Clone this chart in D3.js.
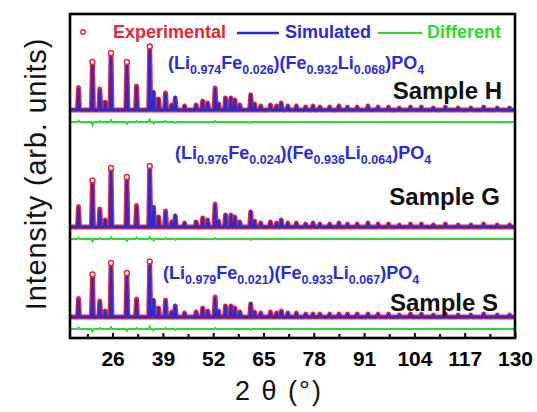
<!DOCTYPE html>
<html><head><meta charset="utf-8">
<script src="https://cdn.jsdelivr.net/npm/d3@7"></script>
<style>body{margin:0;background:#fff} svg{display:block}</style>
</head><body><svg id="c" width="537" height="412"></svg>
<script>
// ---- data ----
const xTicks = [26, 39, 52, 65, 78, 91, 104, 117, 130];
const xMinorTicks = [19.5, 32.5, 45.5, 58.5, 71.5, 84.5, 97.5, 110.5, 123.5];
const samples = ["Sample H", "Sample G", "Sample S"];
const peakPos = [17.2, 20.8, 22.7, 24.1, 25.6, 29.7, 32.2, 35.6, 36.6, 37.9, 39.7, 41.3, 42.2, 44.6, 47.6, 49.3, 50.6, 52.5, 53.4, 55.2, 56.6, 57.6, 58.9, 61.7, 62.7, 64.3, 66.8, 68.4, 69.6, 71.3, 73.5, 75.9, 77.8, 79.6, 82.1, 84.5, 86.7, 89.2, 92.0, 94.6, 97.3, 100.1, 103.0, 105.8, 108.9, 112.0, 115.3, 118.6, 121.9, 125.4, 128.6];
const simH = [21, 50, 20, 8, 54, 49, 23, 60, 19, 11, 16, 5, 13, 4, 5, 9, 7, 21, 6, 12, 12, 10, 5, 16, 6, 4, 5, 4, 7, 4, 4, 3, 4, 3, 3, 4, 3, 3, 4, 3, 3, 2, 3, 3, 2, 3, 2, 2, 3, 2, 2];
const simG = [19, 48, 17, 7, 56, 51, 20, 58, 21, 10, 15, 5, 12, 4, 5, 9, 7, 22, 6, 12, 12, 10, 5, 16, 6, 4, 5, 4, 7, 4, 4, 3, 4, 3, 3, 4, 3, 3, 4, 3, 3, 2, 3, 3, 2, 3, 2, 2, 3, 2, 2];
const simS = [17, 44, 15, 6, 51, 45, 17, 52, 18, 9, 16, 5, 12, 4, 5, 9, 6, 19, 6, 11, 11, 9, 5, 14, 5, 4, 5, 4, 6, 4, 4, 3, 3, 3, 3, 3, 3, 3, 3, 3, 3, 2, 3, 3, 2, 3, 2, 2, 3, 2, 2];
// residuals (experimental - simulated) at the peaks where the difference curve wiggles
const diffPos = [17.2, 20.8, 22.7, 25.6, 29.7, 32.2, 35.6, 36.6, 39.7, 42.2, 52.5, 61.7];
const diffH = [1.5, -3, 1, 2, -2, 1, 2.5, -1.5, 1, -1, 1, -1];
const diffG = [1.5, -2.5, 1, 2, -2, 1.5, 2, -1.5, 1, -1, 1, -1];
const diffS = [1.5, -2.5, 1, 2, -2, 1, 2.5, -1.5, 1, -1, 1, -1];
const baseOffset = [228, 111, 21];
const diffOffset = [216, 99, 9];
const formulaH = [["(Li", 0], ["0.974", 1], ["Fe", 0], ["0.026", 1], [")(Fe", 0], ["0.932", 1], ["Li", 0], ["0.068", 1], [")PO", 0], ["4", 1]];
const formulaG = [["(Li", 0], ["0.976", 1], ["Fe", 0], ["0.024", 1], [")(Fe", 0], ["0.936", 1], ["Li", 0], ["0.064", 1], [")PO", 0], ["4", 1]];
const formulaS = [["(Li", 0], ["0.979", 1], ["Fe", 0], ["0.021", 1], [")(Fe", 0], ["0.933", 1], ["Li", 0], ["0.067", 1], [")PO", 0], ["4", 1]];
const legendLabels = ["Experimental", "Simulated", "Different"];

// ---- drawing ----
const RED = "#e3283a", BLUE = "#2b2bd2", GREEN = "#2fd82f";
const svg = d3.select("#c");
const L = 70, R = 515, T = 14, B = 338;
const x = d3.scaleLinear([15, 130], [L, R]);
const y = d3.scaleLinear([0, 324], [B, T]);
const FONT = "'Liberation Sans', Arial, sans-serif";

svg.append("defs").append("clipPath").attr("id", "clip")
  .append("rect").attr("x", L).attr("y", T).attr("width", R - L).attr("height", B - T);
const g = svg.append("g").attr("clip-path", "url(#clip)");
const line = d3.line().x(d => x(d[0])).y(d => y(d[1]));

function spikes(pos, h, off, hw) {
  const pts = [[15, off]];
  pos.forEach((p, i) => {
    pts.push([p - hw, off], [p, off + h[i]], [p + hw, off]);
  });
  pts.push([130, off]);
  return pts;
}
const sims = [simH, simG, simS];
const diffs = [diffH, diffG, diffS];
const formulas = [formulaH, formulaG, formulaS];

sims.forEach((sim, k) => {
  const off = baseOffset[k];
  const exp = sim.map((v, i) => {
    const j = diffPos.indexOf(peakPos[i]);
    return v + (j >= 0 ? diffs[k][j] : 0);
  });
  g.append("path").attr("d", line(spikes(peakPos, exp, off, 0.26)))
    .attr("fill", "none").attr("stroke", RED).attr("stroke-width", 5)
    .attr("stroke-linejoin", "round");
  g.append("path").attr("d", line(spikes(peakPos, sim, off, 0.26)))
    .attr("fill", "none").attr("stroke", BLUE).attr("stroke-width", 2.3)
    .attr("stroke-linejoin", "round");
  g.selectAll(null).data(peakPos.map((p, i) => [p, off + exp[i]]).filter((d, i) => exp[i] >= 30))
    .join("circle").attr("cx", d => x(d[0])).attr("cy", d => y(d[1]) - 1)
    .attr("r", 2.5).attr("fill", "#fff").attr("stroke", RED).attr("stroke-width", 1.4);
  g.append("path").attr("d", line(spikes(diffPos, diffs[k], diffOffset[k], 0.3)))
    .attr("fill", "none").attr("stroke", GREEN).attr("stroke-width", 1.8);
});

// axis ticks
const ax = svg.append("g").attr("transform", `translate(0,${B})`)
  .call(d3.axisBottom(x).tickValues(xTicks).tickSize(-5).tickSizeOuter(0).tickPadding(13));
ax.select(".domain").remove();
ax.selectAll("line").attr("stroke", "#000").attr("stroke-width", 2);
ax.selectAll("text").attr("font-family", FONT).attr("font-weight", "bold")
  .attr("font-size", 21).attr("fill", "#000");
const ax2 = svg.append("g").attr("transform", `translate(0,${B})`)
  .call(d3.axisBottom(x).tickValues(xMinorTicks).tickSize(-4).tickSizeOuter(0).tickFormat(""));
ax2.select(".domain").remove();
ax2.selectAll("line").attr("stroke", "#000").attr("stroke-width", 2);

// frame
svg.append("rect").attr("x", L).attr("y", T).attr("width", R - L).attr("height", B - T)
  .attr("fill", "none").attr("stroke", "#000").attr("stroke-width", 2.6);

// legend
const lg = svg.append("g").attr("font-family", FONT).attr("font-weight", "bold").attr("font-size", 18);
lg.append("circle").attr("cx", 83).attr("cy", 32).attr("r", 2.3).attr("fill", "#fff").attr("stroke", RED).attr("stroke-width", 1.4);
lg.append("text").attr("x", 113).attr("y", 38).attr("fill", RED).text(legendLabels[0]);
lg.append("line").attr("x1", 237).attr("x2", 279).attr("y1", 33).attr("y2", 33).attr("stroke", BLUE).attr("stroke-width", 2.4);
lg.append("text").attr("x", 285).attr("y", 38).attr("fill", BLUE).text(legendLabels[1]);
lg.append("line").attr("x1", 378).attr("x2", 422).attr("y1", 33).attr("y2", 33).attr("stroke", GREEN).attr("stroke-width", 2.2);
lg.append("text").attr("x", 427).attr("y", 38).attr("fill", GREEN).text(legendLabels[2]);

// formulas
const fPos = [[168, 69], [175, 159], [163, 279]];
formulas.forEach((f, k) => {
  const t = svg.append("text").attr("x", fPos[k][0]).attr("y", fPos[k][1])
    .attr("font-family", FONT).attr("font-weight", "bold").attr("fill", BLUE).attr("font-size", 18);
  let prev = 0;
  f.forEach(([s, sub]) => {
    const dy = sub && !prev ? 5 : (!sub && prev ? -5 : 0);
    t.append("tspan").attr("dy", dy).attr("font-size", sub ? 12.5 : 18).text(s);
    prev = sub;
  });
});

// sample labels
const sPos = [[502, 99], [500, 205], [498, 311]];
samples.forEach((s, k) => {
  svg.append("text").attr("x", sPos[k][0]).attr("y", sPos[k][1]).attr("text-anchor", "end")
    .attr("font-family", FONT).attr("font-weight", "bold").attr("font-size", 24).attr("fill", "#111").text(s);
});

// axis titles
svg.append("text").attr("x", 279).attr("y", 400).attr("text-anchor", "middle")
  .attr("font-family", FONT).attr("font-size", 27).attr("letter-spacing", 2).attr("fill", "#111")
  .text("2 θ (°)");
svg.append("text").attr("transform", "translate(46,174) rotate(-90)").attr("text-anchor", "middle")
  .attr("font-family", FONT).attr("font-size", 29).attr("letter-spacing", 0.8).attr("fill", "#111")
  .text("Intensity (arb. units)");
</script></body></html>
